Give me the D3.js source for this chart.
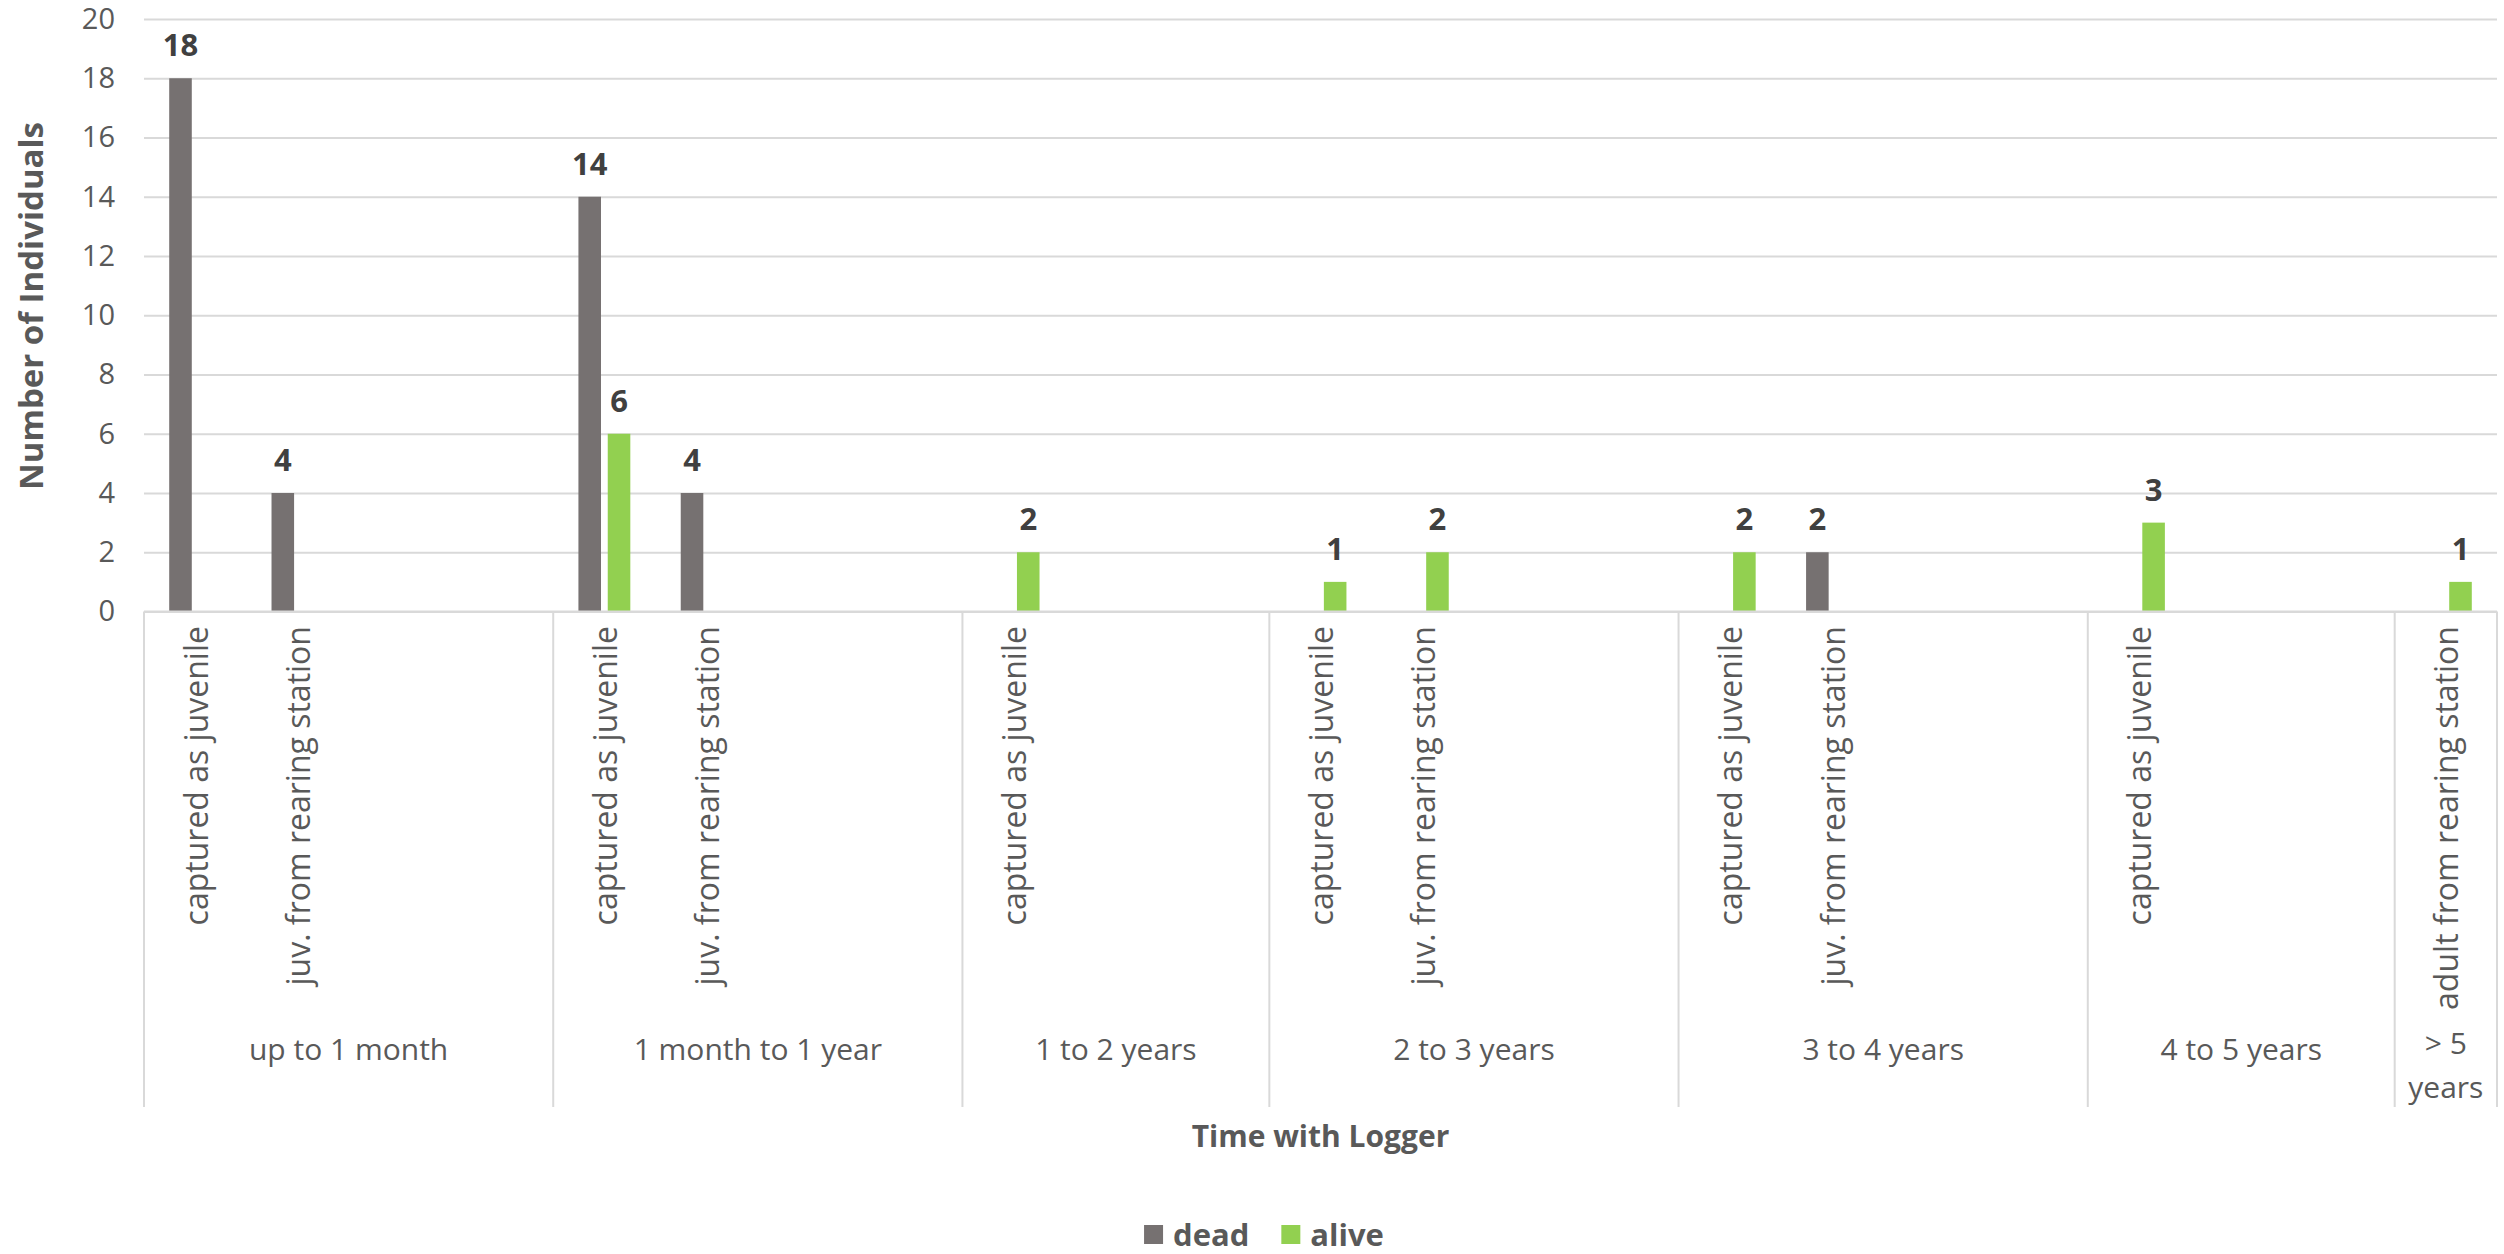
<!DOCTYPE html>
<html>
<head>
<meta charset="utf-8">
<script src="https://cdn.jsdelivr.net/npm/d3@7"></script>
<style>
  body { margin: 0; background: #fff; }
  text { font-family: "Open Sans", sans-serif; }
</style>
</head>
<body>
<div id="chart"></div>
<script>
// chart data
const groupLabels = ["up to 1 month", "1 month to 1 year", "1 to 2 years", "2 to 3 years", "3 to 4 years", "4 to 5 years", "> 5 years"];
const subLabels = [
  ["captured as juvenile", "juv. from rearing station", "", ""],
  ["captured as juvenile", "juv. from rearing station", "", ""],
  ["captured as juvenile", "", ""],
  ["captured as juvenile", "juv. from rearing station", "", ""],
  ["captured as juvenile", "juv. from rearing station", "", ""],
  ["captured as juvenile", "", ""],
  ["adult from rearing station"]
];
const deadValues = [[18, 4, null, null], [14, 4, null, null], [null, null, null], [null, null, null, null], [null, 2, null, null], [null, null, null], [null]];
const aliveValues = [[null, null, null, null], [6, null, null, null], [2, null, null], [1, 2, null, null], [2, null, null, null], [3, null, null], [1]];
const seriesNames = ["dead", "alive"];
const seriesColors = ["#767171", "#92d050"];
const yTicks = [0, 2, 4, 6, 8, 10, 12, 14, 16, 18, 20];

// dimensions
const W = 2504, H = 1254;
const plotLeft = 144, plotRight = 2497, plotTop = 19, plotBase = 611.5;
const axisBottom = 1107;

const svg = d3.select("#chart").append("svg")
    .attr("width", W)
    .attr("height", H);

// flatten the two-level categories into units
const units = [];
subLabels.forEach(function(subs, gi) {
  subs.forEach(function(lab, si) {
    units.push({key: gi + "-" + si, group: gi, label: lab,
                dead: deadValues[gi][si], alive: aliveValues[gi][si]});
  });
});

const x = d3.scaleBand()
    .domain(units.map(d => d.key))
    .range([plotLeft, plotRight])
    .padding(0);

const xs = d3.scaleBand()
    .domain(seriesNames)
    .range([0, x.bandwidth()])
    .paddingInner(0.23)
    .paddingOuter(0.86);

const y = d3.scaleLinear()
    .domain([0, 20])
    .range([plotBase, plotTop]);

// gridlines + y labels
const yAxis = svg.append("g")
    .attr("transform", "translate(" + plotLeft + ",0)")
    .call(d3.axisLeft(y).tickValues(yTicks).tickSize(-(plotRight - plotLeft)).tickPadding(29));
yAxis.select(".domain").remove();
yAxis.selectAll(".tick line").attr("stroke", "#d9d9d9").attr("stroke-width", 2);
yAxis.selectAll(".tick text")
    .attr("fill", "#595959")
    .style("font-size", "29px");

// bars
const bars = [];
units.forEach(function(u) {
  seriesNames.forEach(function(s, i) {
    if (u[s] != null) bars.push({unit: u, series: s, color: seriesColors[i], value: u[s]});
  });
});

svg.selectAll("rect.bar")
    .data(bars)
    .enter()
    .append("rect")
    .attr("class", "bar")
    .attr("x", d => x(d.unit.key) + xs(d.series))
    .attr("width", xs.bandwidth())
    .attr("y", d => y(d.value))
    .attr("height", d => y(0) - y(d.value))
    .attr("fill", d => d.color);

// data labels
svg.selectAll("text.val")
    .data(bars)
    .enter()
    .append("text")
    .attr("class", "val")
    .attr("x", d => x(d.unit.key) + xs(d.series) + xs.bandwidth() / 2)
    .attr("y", d => y(d.value) - 22)
    .attr("text-anchor", "middle")
    .attr("fill", "#404040")
    .style("font-size", "31px")
    .style("font-weight", "bold")
    .text(d => d.value);

// category axis line
svg.append("line")
    .attr("x1", plotLeft).attr("x2", plotRight)
    .attr("y1", plotBase).attr("y2", plotBase)
    .attr("stroke", "#d9d9d9").attr("stroke-width", 2);

// group separators
const groupStarts = groupLabels.map((g, gi) => units.find(u => u.group === gi));
const groupBounds = groupStarts.map(u => x(u.key)).concat([plotRight]);
svg.selectAll("line.sep")
    .data(groupBounds)
    .enter()
    .append("line")
    .attr("class", "sep")
    .attr("x1", d => d).attr("x2", d => d)
    .attr("y1", plotBase).attr("y2", axisBottom)
    .attr("stroke", "#d9d9d9").attr("stroke-width", 2);

// sub-category labels (rotated)
svg.selectAll("text.sub")
    .data(units.filter(u => u.label !== ""))
    .enter()
    .append("text")
    .attr("class", "sub")
    .attr("transform", d => "translate(" + (x(d.key) + x.bandwidth() / 2) + ",626) rotate(-90)")
    .attr("text-anchor", "end")
    .attr("dominant-baseline", "central")
    .attr("fill", "#595959")
    .style("font-size", "32px")
    .text(d => d.label);

// group labels, wrapped when they don't fit
groupLabels.forEach(function(g, gi) {
  const x0 = groupBounds[gi], x1 = groupBounds[gi + 1];
  const cx = (x0 + x1) / 2;
  const t = svg.append("text")
      .attr("x", cx)
      .attr("text-anchor", "middle")
      .attr("dominant-baseline", "central")
      .attr("fill", "#595959")
      .style("font-size", "30px")
      .text(g);
  if (t.node().getComputedTextLength() > (x1 - x0) - 16) {
    const words = g.split(" ");
    const lines = [words.slice(0, 2).join(" "), words.slice(2).join(" ")];
    t.text(null);
    lines.forEach(function(line, li) {
      t.append("tspan").attr("x", cx).attr("y", 1042 + li * 44).text(line);
    });
  } else {
    t.attr("y", 1048);
  }
});

// axis titles
svg.append("text")
    .attr("x", (plotLeft + plotRight) / 2)
    .attr("y", 1135)
    .attr("text-anchor", "middle")
    .attr("dominant-baseline", "central")
    .attr("fill", "#595959")
    .style("font-size", "30px")
    .style("font-weight", "bold")
    .text("Time with Logger");

svg.append("text")
    .attr("transform", "translate(30,306) rotate(-90)")
    .attr("text-anchor", "middle")
    .attr("dominant-baseline", "central")
    .attr("fill", "#595959")
    .style("font-size", "33px")
    .style("font-weight", "bold")
    .text("Number of Individuals");

// legend
const legend = svg.append("g");
let lx = 0;
seriesNames.forEach(function(s, i) {
  const item = legend.append("g").attr("transform", "translate(" + lx + ",0)");
  item.append("rect")
      .attr("x", 0).attr("y", -9)
      .attr("width", 19).attr("height", 19)
      .attr("fill", seriesColors[i]);
  const txt = item.append("text")
      .attr("x", 29)
      .attr("dominant-baseline", "central")
      .attr("fill", "#595959")
      .style("font-size", "31px")
      .style("font-weight", "bold")
      .text(s);
  lx += 29 + txt.node().getComputedTextLength() + 32;
});
const legendW = lx - 32;
legend.attr("transform", "translate(" + (1264 - legendW / 2) + ",1234)");
</script>
</body>
</html>
